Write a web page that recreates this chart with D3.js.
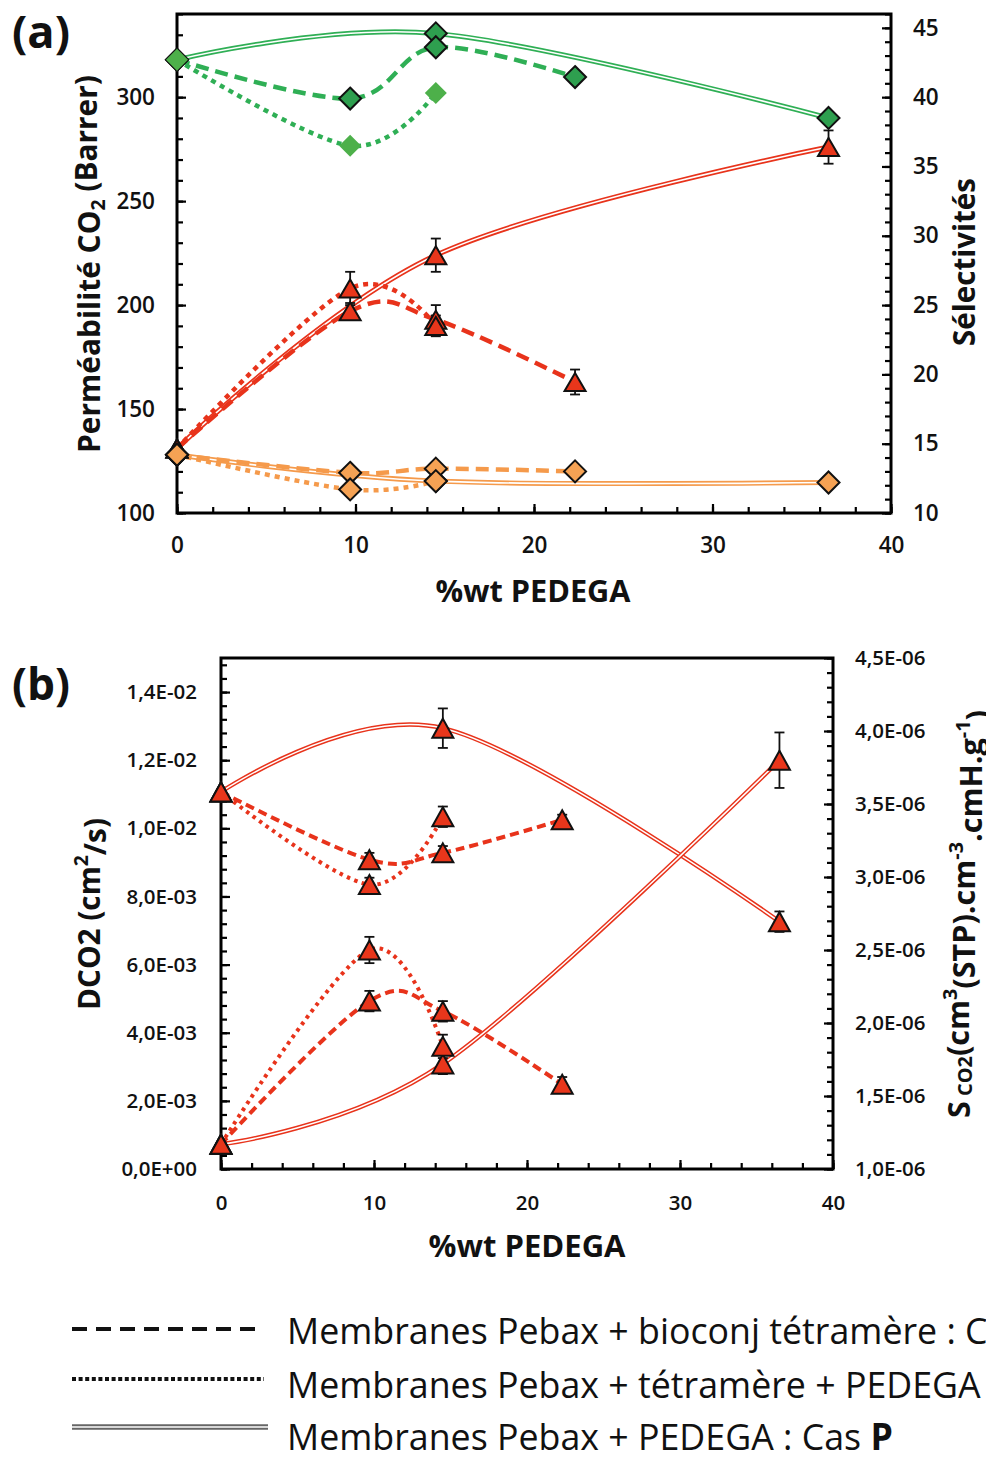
<!DOCTYPE html>
<html><head><meta charset="utf-8">
<script src="https://cdn.jsdelivr.net/npm/d3@7"></script>
<style>body{margin:0;background:#fff} svg{display:block}</style>
</head><body>
<svg id="c" width="986" height="1461"></svg>
<script>
// ---------------- DATA ----------------
const xBioconj = [0, 9.7, 14.5, 22.3];
const xTetra   = [0, 9.7, 14.5];
const xPedega  = [0, 14.5, 36.5];

// Panel (a) : permeability CO2 (Barrer, left axis)
const permBioconj    = [131, 197, 193, 163];
const permBioconjErr = [0, 4, 7, 6];
const permTetra      = [131, 208, 190];
const permTetraErr   = [0, 8, 5];
const permPedega     = [131, 224, 276];
const permPedegaErr  = [0, 8, 8];
// Panel (a) : selectivities (right axis)
const selGreenBioconj  = [42.7, 39.9, 43.6, 41.45];
const selGreenTetra    = [42.7, 36.5, 40.3];
const selGreenPedega   = [42.7, 44.6, 38.5];
const selOrangeBioconj = [14.2, 12.9, 13.2, 13.0];
const selOrangeTetra   = [14.2, 11.7, 12.3];
const selOrangePedega  = [14.2, 12.3, 12.2];

// Panel (b) : diffusion D CO2 (left axis)
const diffBioconj    = [11.07e-3, 9.08e-3, 9.28e-3, 10.25e-3];
const diffBioconjErr = [0, 0.2e-3, 0.2e-3, 0.15e-3];
const diffTetra      = [11.07e-3, 8.35e-3, 10.34e-3];
const diffTetraErr   = [0, 0.2e-3, 0.3e-3];
const diffPedega     = [11.07e-3, 12.94e-3, 7.26e-3];
const diffPedegaErr  = [0, 0.58e-3, 0.3e-3];
// Panel (b) : solubility S CO2 (right axis)
const solBioconj    = [1.17e-6, 2.15e-6, 2.08e-6, 1.58e-6];
const solBioconjErr = [0, 0.07e-6, 0.07e-6, 0.05e-6];
const solTetra      = [1.17e-6, 2.50e-6, 1.84e-6];
const solTetraErr   = [0, 0.09e-6, 0.08e-6];
const solPedega     = [1.17e-6, 1.72e-6, 3.80e-6];
const solPedegaErr  = [0, 0.07e-6, 0.19e-6];

// Ticks
const xTicks     = [0, 10, 20, 30, 40];
const permTicks  = [100, 150, 200, 250, 300];
const selTicks   = [10, 15, 20, 25, 30, 35, 40, 45];
const diffTicks  = [0, 0.002, 0.004, 0.006, 0.008, 0.010, 0.012, 0.014];
const solTicks   = [1.0e-6, 1.5e-6, 2.0e-6, 2.5e-6, 3.0e-6, 3.5e-6, 4.0e-6, 4.5e-6];

const legendLabels = ["Membranes Pebax + bioconj tétramère : C", "Membranes Pebax + tétramère + PEDEGA", "Membranes Pebax + PEDEGA : Cas "];

// ---------------- STYLE ----------------
const GREEN = '#2FAF55', GREEN_MK = '#2E9F4F', GREEN_LIGHT = '#4DB04A';
const RED = '#E8331B', RED_MK = '#E8361B';
const ORANGE = '#F59A4B', ORANGE_MK = '#F5A254';
const FONT = "'Open Sans', 'DejaVu Sans', sans-serif";

const svg = d3.select('#c');

function sci(v) {
  if (Math.abs(v) < 1e-15) return '0,0E+00';
  let e = Math.floor(Math.log10(Math.abs(v)) + 1e-9);
  let m = v / Math.pow(10, e);
  if (Math.abs(m) >= 9.95) { m /= 10; e += 1; }
  return m.toFixed(1).replace('.', ',') + 'E' + (e < 0 ? '-' : '+') + String(Math.abs(e)).padStart(2, '0');
}

function fitText(t, target) {
  const fs = parseFloat(t.attr('font-size'));
  const w = t.node().getComputedTextLength();
  t.attr('font-size', fs * target / w);
}

function styleAxis(g, fs) {
  g.select('.domain').remove();
  g.selectAll('line').attr('stroke', '#000').attr('stroke-width', 2.2);
  g.selectAll('text').attr('font-family', FONT).attr('font-size', fs).attr('font-weight', 600).attr('fill', '#111');
}

function drawPanel(p) {
  const g = svg.append('g');
  const {x, yL, yR, x0, x1, y0, y1} = p;
  const axes = [
    [d3.axisBottom(x).tickValues(p.xMinor).tickSize(-6).tickFormat(''), `translate(0,${y1})`],
    [d3.axisLeft(yL).tickValues(p.yLMinor).tickSize(-6).tickFormat(''), `translate(${x0},0)`],
    [d3.axisRight(yR).tickValues(p.yRMinor).tickSize(-6).tickFormat(''), `translate(${x1},0)`],
    [d3.axisBottom(x).tickValues(xTicks).tickSize(-9).tickPadding(p.padB).tickFormat(d3.format('d')), `translate(0,${y1})`],
    [d3.axisLeft(yL).tickValues(p.yLTicks).tickSize(-9).tickPadding(p.padL).tickFormat(p.fmtL), `translate(${x0},0)`],
    [d3.axisRight(yR).tickValues(p.yRTicks).tickSize(-9).tickPadding(p.padR).tickFormat(p.fmtR), `translate(${x1},0)`]
  ];
  axes.forEach(([ax, tr]) => {
    const a = g.append('g').attr('transform', tr).call(ax);
    styleAxis(a, p.tickFs);
  });
  g.append('rect').attr('x', x0).attr('y', y0).attr('width', x1 - x0).attr('height', y1 - y0)
    .attr('fill', 'none').attr('stroke', '#000').attr('stroke-width', 3);

  const plot = g.append('g');
  p.series.forEach(s => {
    const ys = s.axis === 'L' ? yL : yR;
    const pts = s.x.map((v, i) => [x(v), ys(s.y[i])]);
    const line = d3.line().curve(d3.curveCardinal.tension(0));
    const d = line(pts);
    if (s.style === 'double') {
      plot.append('path').attr('d', d).attr('fill', 'none').attr('stroke', s.color).attr('stroke-width', p.dblW);
      plot.append('path').attr('d', d).attr('fill', 'none').attr('stroke', '#fff').attr('stroke-width', p.dblIn);
    } else if (s.style === 'dash') {
      plot.append('path').attr('d', d).attr('fill', 'none').attr('stroke', s.color)
        .attr('stroke-width', p.dashW).attr('stroke-dasharray', p.dashArr);
    } else {
      plot.append('path').attr('d', d).attr('fill', 'none').attr('stroke', s.color)
        .attr('stroke-width', p.dotW).attr('stroke-dasharray', p.dotArr);
    }
  });
  p.series.forEach(s => {
    if (!s.err) return;
    const ys = s.axis === 'L' ? yL : yR;
    s.x.forEach((v, i) => {
      const e = s.err[i];
      if (!e) return;
      const cx = x(v), ya = ys(s.y[i] + e), yb = ys(s.y[i] - e);
      plot.append('line').attr('x1', cx).attr('x2', cx).attr('y1', ya).attr('y2', yb).attr('stroke', '#111').attr('stroke-width', 1.8);
      [ya, yb].forEach(yy => plot.append('line').attr('x1', cx - 5).attr('x2', cx + 5).attr('y1', yy).attr('y2', yy).attr('stroke', '#111').attr('stroke-width', 1.8));
    });
  });
  p.series.forEach(s => {
    const ys = s.axis === 'L' ? yL : yR;
    s.x.forEach((v, i) => {
      const cx = x(v), cy = ys(s.y[i]);
      let path;
      if (s.marker === 'diamond') {
        const r = p.dia / 2;
        path = `M0,${-r}L${r},0L0,${r}L${-r},0Z`;
      } else {
        const w = p.triW / 2, h = p.triH / 2;
        path = `M0,${-h}L${w},${h}L${-w},${h}Z`;
      }
      plot.append('path').attr('d', path).attr('transform', `translate(${cx},${cy})`)
        .attr('fill', s.fill).attr('stroke', s.outline ? '#111' : 'none').attr('stroke-width', 2)
        .attr('stroke-linejoin', 'miter');
    });
  });
}

// ---------------- PANEL (a) ----------------
const xA = d3.scaleLinear([0, 40], [177, 891]);
const yAL = d3.scaleLinear([100, 340], [513, 14]);
const yAR = d3.scaleLinear([10, 46], [513, 14]);
drawPanel({
  x: xA, yL: yAL, yR: yAR, x0: 177, x1: 891, y0: 14, y1: 513,
  xMinor: d3.range(0, 40.1, 2), yLMinor: d3.range(100, 341, 10), yRMinor: d3.range(10, 46.1, 1),
  yLTicks: permTicks, yRTicks: selTicks, fmtL: d3.format('d'), fmtR: d3.format('d'),
  padB: 24, padL: 22, padR: 22, tickFs: 22.5,
  dblW: 5, dblIn: 1.6, dashW: 4.5, dashArr: '13,7', dotW: 4.5, dotArr: '5,5',
  dia: 22, triW: 21, triH: 18,
  series: [
    {x: xPedega, y: permPedega, err: permPedegaErr, axis: 'L', color: RED, style: 'double', marker: 'tri', fill: RED_MK, outline: true},
    {x: xBioconj, y: permBioconj, err: permBioconjErr, axis: 'L', color: RED, style: 'dash', marker: 'tri', fill: RED_MK, outline: true},
    {x: xTetra, y: permTetra, err: permTetraErr, axis: 'L', color: RED, style: 'dot', marker: 'tri', fill: RED_MK, outline: true},
    {x: xPedega, y: selOrangePedega, axis: 'R', color: ORANGE, style: 'double', marker: 'diamond', fill: ORANGE_MK, outline: true},
    {x: xBioconj, y: selOrangeBioconj, axis: 'R', color: ORANGE, style: 'dash', marker: 'diamond', fill: ORANGE_MK, outline: true},
    {x: xTetra, y: selOrangeTetra, axis: 'R', color: ORANGE, style: 'dot', marker: 'diamond', fill: ORANGE_MK, outline: true},
    {x: xPedega, y: selGreenPedega, axis: 'R', color: GREEN, style: 'double', marker: 'diamond', fill: GREEN_MK, outline: true},
    {x: xBioconj, y: selGreenBioconj, axis: 'R', color: GREEN, style: 'dash', marker: 'diamond', fill: GREEN_MK, outline: true},
    {x: xTetra, y: selGreenTetra, axis: 'R', color: GREEN, style: 'dot', marker: 'diamond', fill: GREEN_LIGHT, outline: false}
  ]
});

// ---------------- PANEL (b) ----------------
const xB = d3.scaleLinear([0, 40], [221, 833]);
const yBL = d3.scaleLinear([0, 0.015], [1169, 658]);
const yBR = d3.scaleLinear([1e-6, 4.5e-6], [1169, 658]);
drawPanel({
  x: xB, yL: yBL, yR: yBR, x0: 221, x1: 833, y0: 658, y1: 1169,
  xMinor: d3.range(0, 40.1, 2), yLMinor: d3.range(0, 0.01501, 0.0004), yRMinor: d3.range(1e-6, 4.5e-6 + 1e-9, 0.1e-6),
  yLTicks: diffTicks, yRTicks: solTicks, fmtL: sci, fmtR: sci,
  padB: 26, padL: 24, padR: 22, tickFs: 20.5,
  dblW: 4.5, dblIn: 1.5, dashW: 4, dashArr: '9,5', dotW: 4, dotArr: '3.5,4.5',
  dia: 20, triW: 21, triH: 19,
  series: [
    {x: xPedega, y: diffPedega, err: diffPedegaErr, axis: 'L', color: RED, style: 'double', marker: 'tri', fill: RED_MK, outline: true},
    {x: xBioconj, y: diffBioconj, err: diffBioconjErr, axis: 'L', color: RED, style: 'dash', marker: 'tri', fill: RED_MK, outline: true},
    {x: xTetra, y: diffTetra, err: diffTetraErr, axis: 'L', color: RED, style: 'dot', marker: 'tri', fill: RED_MK, outline: true},
    {x: xPedega, y: solPedega, err: solPedegaErr, axis: 'R', color: RED, style: 'double', marker: 'tri', fill: RED_MK, outline: true},
    {x: xBioconj, y: solBioconj, err: solBioconjErr, axis: 'R', color: RED, style: 'dash', marker: 'tri', fill: RED_MK, outline: true},
    {x: xTetra, y: solTetra, err: solTetraErr, axis: 'R', color: RED, style: 'dot', marker: 'tri', fill: RED_MK, outline: true}
  ]
});

// ---------------- TITLES ----------------
function title(x, y, rot, target, build, fs, weight) {
  const t = svg.append('text').attr('font-family', FONT).attr('font-weight', weight || 700)
    .attr('font-size', fs).attr('fill', '#111').attr('text-anchor', 'middle')
    .attr('transform', `translate(${x},${y}) rotate(${rot})`);
  build(t);
  if (target) fitText(t, target);
  return t;
}
title(41, 48, 0, 58, t => t.text('(a)'), 44);
title(41, 700, 0, 58, t => t.text('(b)'), 44);
title(533, 602, 0, 195, t => t.text('%wt PEDEGA'), 30);
title(527, 1257, 0, 197, t => t.text('%wt PEDEGA'), 30);
title(100, 264, -90, 378, t => {
  t.append('tspan').text('Perméabilité CO');
  t.append('tspan').attr('font-size', '65%').attr('dy', '0.25em').text('2');
  t.append('tspan').attr('dy', '-0.25em').text(' (Barrer)');
}, 28);
title(975, 262, -90, 168, t => t.text('Sélectivités'), 28);
title(100, 914, -90, 192, t => {
  t.append('tspan').text('DCO2 (cm');
  t.append('tspan').attr('font-size', '65%').attr('dy', '-0.6em').text('2');
  t.append('tspan').attr('dy', '0.6em').text('/s)');
}, 26);
title(970, 914, -90, 408, t => {
  t.append('tspan').text('S');
  t.append('tspan').attr('font-size', '65%').attr('dy', '0.1em').text(' CO2');
  t.append('tspan').attr('dy', '-0.1em').text('(cm');
  t.append('tspan').attr('font-size', '65%').attr('dy', '-0.6em').text('3');
  t.append('tspan').attr('dy', '0.6em').text('(STP).cm');
  t.append('tspan').attr('font-size', '65%').attr('dy', '-0.6em').text('-3');
  t.append('tspan').attr('dy', '0.6em').text('.cmH.g');
  t.append('tspan').attr('font-size', '65%').attr('dy', '-0.6em').text('-1');
  t.append('tspan').attr('dy', '0.6em').text(')');
}, 26);

// ---------------- LEGEND ----------------
const legRowsY = [1329, 1379, 1427];
const legTextY = [1344, 1398, 1450];
const lg = svg.append('g');
lg.append('line').attr('x1', 72).attr('x2', 262).attr('y1', legRowsY[0]).attr('y2', legRowsY[0])
  .attr('stroke', '#111').attr('stroke-width', 4).attr('stroke-dasharray', '15,9');
lg.append('line').attr('x1', 72).attr('x2', 264).attr('y1', legRowsY[1]).attr('y2', legRowsY[1])
  .attr('stroke', '#111').attr('stroke-width', 4).attr('stroke-dasharray', '4,2.6');
lg.append('line').attr('x1', 72).attr('x2', 268).attr('y1', legRowsY[2]).attr('y2', legRowsY[2])
  .attr('stroke', '#666').attr('stroke-width', 5.5);
lg.append('line').attr('x1', 72).attr('x2', 268).attr('y1', legRowsY[2]).attr('y2', legRowsY[2])
  .attr('stroke', '#fff').attr('stroke-width', 1.6);
const legTexts = legendLabels.map((lab, i) => {
  const t = lg.append('text').attr('font-family', FONT).attr('font-size', 37).attr('fill', '#111')
    .attr('x', 0).attr('y', 0).attr('transform', `translate(287,${legTextY[i]})`);
  t.append('tspan').text(lab);
  if (i === 2) t.append('tspan').attr('font-weight', 700).text('P');
  return t;
});
const w3 = legTexts[2].node().getComputedTextLength();
const sx = 606 / w3;
legTexts.forEach((t, i) => t.attr('transform', `translate(287,${legTextY[i]}) scale(${sx},1)`));
</script>
</body></html>
